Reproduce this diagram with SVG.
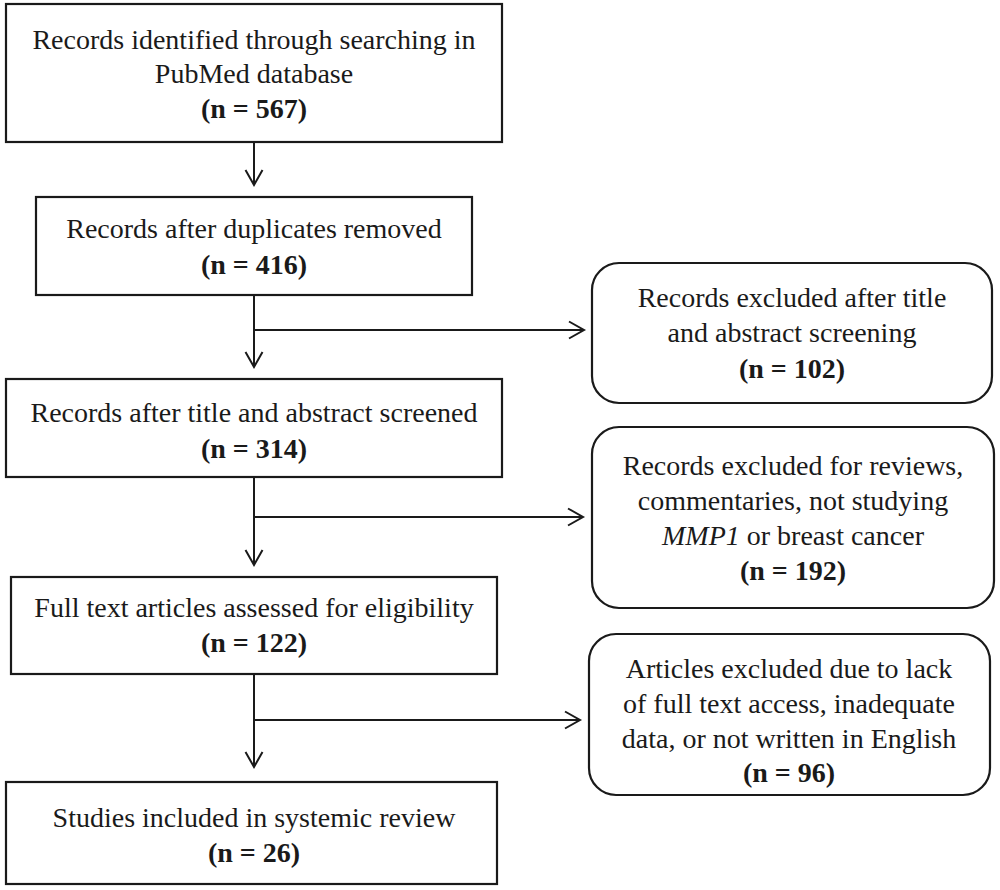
<svg xmlns="http://www.w3.org/2000/svg" width="1000" height="890" viewBox="0 0 1000 890">
<style>
.box{fill:#fff;stroke:#1a1a1a;stroke-width:2.2}
.t{font-family:"Liberation Serif","Times New Roman",serif;font-size:28px;fill:#1a1a1a;text-anchor:middle}
.b{font-weight:bold}
.c{fill:none;stroke:#1a1a1a;stroke-width:2}
</style>
<defs>
<marker id="ah" markerUnits="userSpaceOnUse" markerWidth="20" markerHeight="20" refX="15" refY="8.5" orient="auto" overflow="visible">
<path d="M0,0 L15,8.5 L0,17" fill="none" stroke="#1a1a1a" stroke-width="2"/>
</marker>
</defs>
<rect width="1000" height="890" fill="#fff"/>
<g id="connectors">
<line class="c" x1="254" y1="142" x2="254" y2="185" marker-end="url(#ah)"/>
<line class="c" x1="254" y1="295" x2="254" y2="367" marker-end="url(#ah)"/>
<line class="c" x1="254" y1="330" x2="584" y2="330" marker-end="url(#ah)"/>
<line class="c" x1="254" y1="477" x2="254" y2="565" marker-end="url(#ah)"/>
<line class="c" x1="254" y1="517" x2="583" y2="517" marker-end="url(#ah)"/>
<line class="c" x1="254" y1="674" x2="254" y2="767" marker-end="url(#ah)"/>
<line class="c" x1="254" y1="720" x2="580" y2="720" marker-end="url(#ah)"/>
</g>
<g id="n1">
<rect class="box" x="6" y="4" width="496" height="138"/>
<text class="t" x="254" y="49">Records identified through searching in</text>
<text class="t" x="254" y="83">PubMed database</text>
<text class="t b" x="254" y="118">(n = 567)</text>
</g>
<g id="n2">
<rect class="box" x="36" y="197" width="436" height="98"/>
<text class="t" x="254" y="238">Records after duplicates removed</text>
<text class="t b" x="254" y="274">(n = 416)</text>
</g>
<g id="n3">
<rect class="box" x="6" y="379" width="496" height="98"/>
<text class="t" x="254" y="422">Records after title and abstract screened</text>
<text class="t b" x="254" y="458">(n = 314)</text>
</g>
<g id="n4">
<rect class="box" x="11" y="577" width="486" height="97"/>
<text class="t" x="254" y="617">Full text articles assessed for eligibility</text>
<text class="t b" x="254" y="652">(n = 122)</text>
</g>
<g id="n5">
<rect class="box" x="6" y="782" width="491" height="102"/>
<text class="t" x="254" y="827">Studies included in systemic review</text>
<text class="t b" x="254" y="862">(n = 26)</text>
</g>
<g id="x1">
<rect class="box" x="592" y="263" width="400" height="140" rx="27"/>
<text class="t" x="792" y="307">Records excluded after title</text>
<text class="t" x="792" y="342">and abstract screening</text>
<text class="t b" x="792" y="378">(n = 102)</text>
</g>
<g id="x2">
<rect class="box" x="592" y="427" width="402" height="181" rx="27"/>
<text class="t" x="793" y="475">Records excluded for reviews,</text>
<text class="t" x="793" y="510">commentaries, not studying</text>
<text class="t" x="793" y="545"><tspan font-style="italic">MMP1</tspan> or breast cancer</text>
<text class="t b" x="793" y="580">(n = 192)</text>
</g>
<g id="x3">
<rect class="box" x="589" y="634" width="401" height="161" rx="27"/>
<text class="t" x="789" y="678">Articles excluded due to lack</text>
<text class="t" x="789" y="713">of full text access, inadequate</text>
<text class="t" x="789" y="748">data, or not written in English</text>
<text class="t b" x="789" y="782">(n = 96)</text>
</g>
</svg>
